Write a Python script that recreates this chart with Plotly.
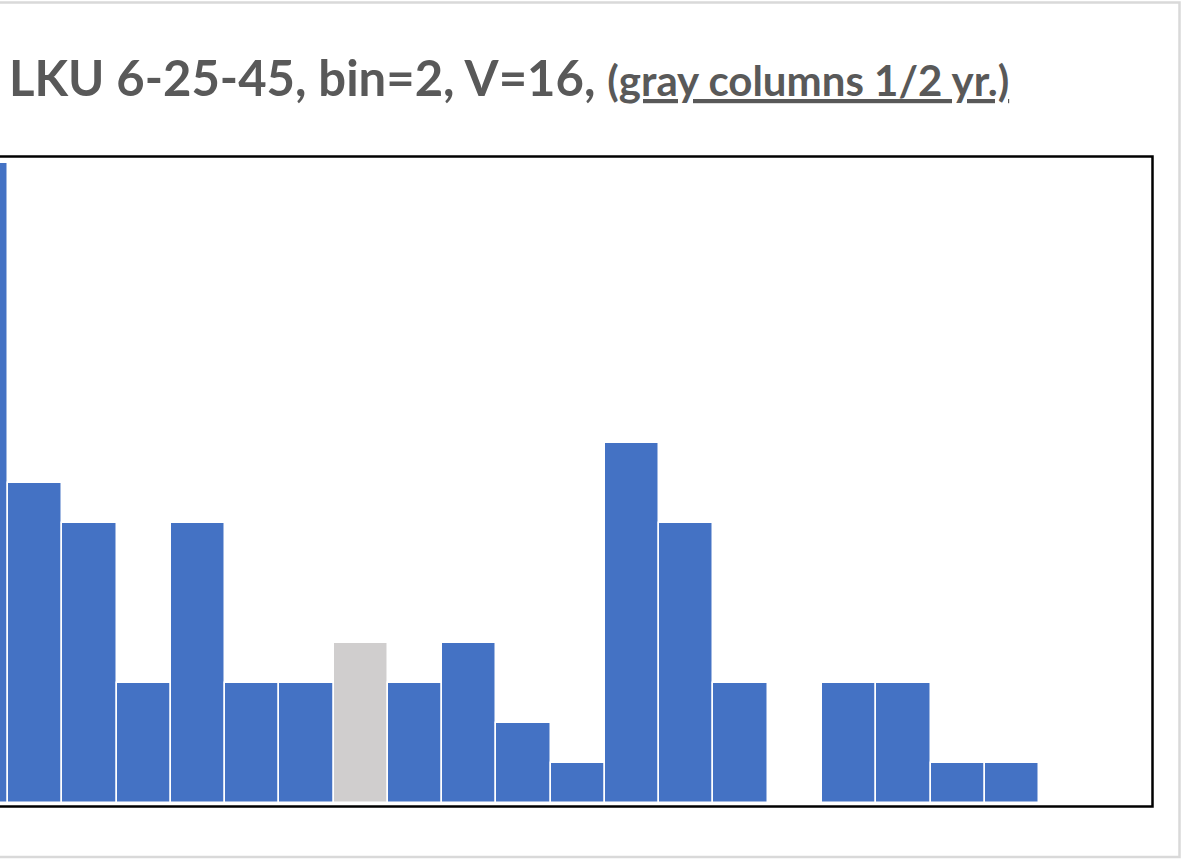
import plotly.graph_objects as go

# Data (bin index, count); bin 7 is the half-year (gray) column
bins = list(range(20))
counts = [16, 8, 7, 3, 7, 3, 3, 4, 3, 4, 2, 1, 9, 7, 3, 0, 3, 3, 1, 1]
half_year = [False] * 20
half_year[7] = True

BLUE = "#4472C4"
GRAY = "#D0CECE"
colors = [GRAY if h else BLUE for h in half_year]

W, H = 1183, 860
L, R, T, B = 0, 30, 157, 53
PW = W - L - R
PH = H - T - B

def px(xp):
    return (xp - L) / PW

def py(yp):
    return (H - B - yp) / PH

fig = go.Figure()
fig.add_trace(go.Bar(
    x=bins, y=counts, width=1,
    marker=dict(color=colors, line=dict(color="white", width=1.5)),
    showlegend=False, hoverinfo="x+y",
))

fig.update_layout(
    width=W, height=H,
    margin=dict(l=L, r=R, t=T, b=B, pad=0),
    paper_bgcolor="white", plot_bgcolor="white",
    bargap=0,
    xaxis=dict(range=[0.3526, 21.6], visible=False, fixedrange=True),
    yaxis=dict(range=[-0.1, 16.15], visible=False, fixedrange=True),
)

# plot area frame (left edge lies off-canvas)
fig.add_shape(type="rect", xref="paper", yref="paper",
              x0=px(-20), x1=px(1152.5), y0=py(806.5), y1=py(156.5),
              line=dict(color="black", width=2.5), fillcolor="rgba(0,0,0,0)", layer="above")
# outer chart border
fig.add_shape(type="rect", xref="paper", yref="paper",
              x0=px(-20), x1=px(1179.5), y0=py(857), y1=py(2.5),
              line=dict(color="#D9D9D9", width=2.5), fillcolor="rgba(0,0,0,0)", layer="above")

title = ("<b>LKU 6-25-45, bin=2, V=16, </b>"
         "<b><span style='font-size:42px'>(<u>gray columns 1/2 yr.)</u></span></b>")
fig.add_annotation(text=title, xref="paper", yref="paper",
                   x=px(7), y=py(77), xanchor="left", yanchor="middle",
                   showarrow=False,
                   font=dict(family="Lato, Open Sans, sans-serif", size=49, color="#595959"))

fig.write_html("out.html", config={"displayModeBar": False},
               post_script="document.body.style.margin='0';")
